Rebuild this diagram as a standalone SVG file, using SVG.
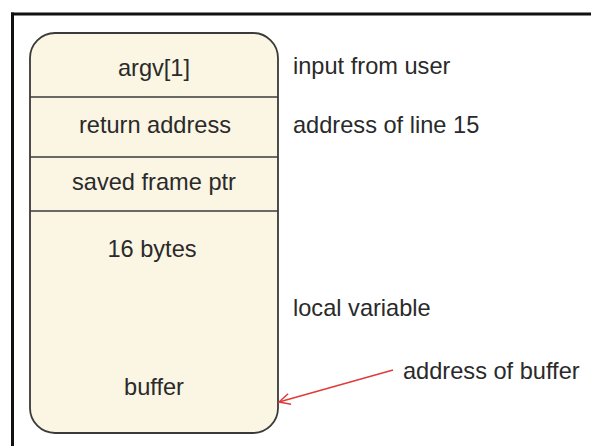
<svg xmlns="http://www.w3.org/2000/svg" width="591" height="446" viewBox="0 0 591 446">
<style>
  .t { font-family: "Liberation Sans", Arial, sans-serif; font-size: 23.6px; fill: #2a2a2a; }
  .c { text-anchor: middle; }
  .div { stroke: #3a3a3a; stroke-width: 1.5; fill: none; }
</style>
<defs>
  <marker id="ah" markerWidth="14" markerHeight="14" refX="12" refY="7" orient="auto" markerUnits="userSpaceOnUse">
    <path d="M1,1.5 L12,7 L1,12.5" fill="none" stroke="#e03a3a" stroke-width="1.5"/>
  </marker>
</defs>
<rect x="0" y="0" width="591" height="446" fill="#ffffff"/>
<g id="frame">
  <line x1="11" y1="14" x2="591" y2="14" stroke="#111" stroke-width="3"/>
  <line x1="12.5" y1="12.5" x2="12.5" y2="446" stroke="#111" stroke-width="3"/>
</g>
<g id="stack">
  <rect x="30" y="33" width="248" height="400" rx="25" ry="25" fill="#fbf5e3" stroke="#3a3a3a" stroke-width="1.8"/>
  <line class="div" x1="30" y1="97" x2="278" y2="97"/>
  <line class="div" x1="30" y1="157" x2="278" y2="157"/>
  <line class="div" x1="30" y1="211" x2="278" y2="211"/>
</g>
<g id="argv"><text class="t c" x="154" y="76">argv[1]</text></g>
<g id="ret"><text class="t c" x="155" y="133">return address</text></g>
<g id="sfp"><text class="t c" x="154" y="190">saved frame ptr</text></g>
<g id="buf">
  <text class="t c" x="152" y="257">16 bytes</text>
  <text class="t c" x="154" y="395">buffer</text>
</g>
<g id="labels">
  <text class="t" x="293" y="74">input from user</text>
  <text class="t" x="293" y="133">address of line 15</text>
  <text class="t" x="293" y="316">local variable</text>
  <text class="t" x="403" y="379">address of buffer</text>
</g>
<g id="connectors">
  <line x1="393" y1="370" x2="279" y2="402" stroke="#e03a3a" stroke-width="1.5" marker-end="url(#ah)"/>
</g>
</svg>
